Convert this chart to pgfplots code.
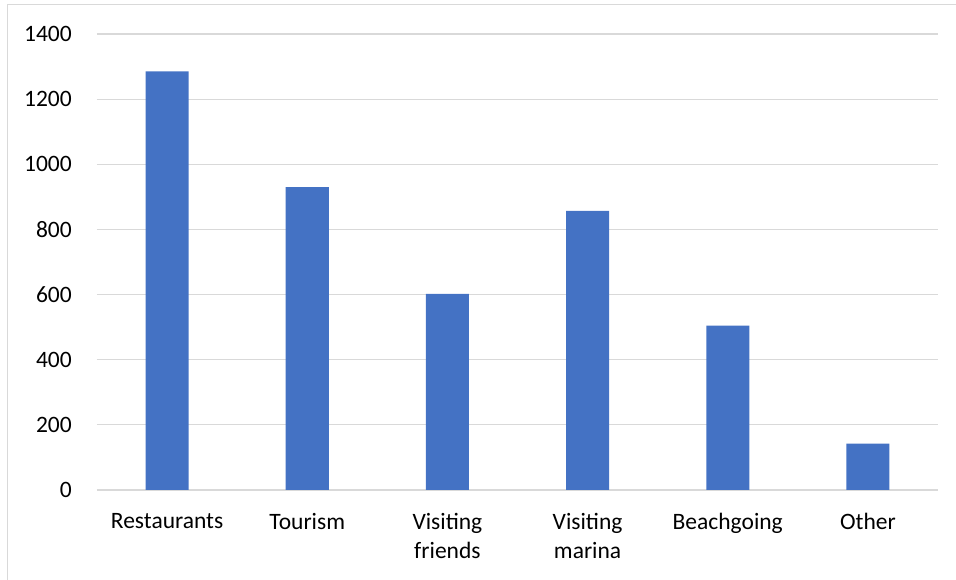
\documentclass[border=0pt]{standalone}
\usepackage{fontspec}
\setmainfont{Carlito}
\usepackage{pgfplots}
\pgfplotsset{compat=1.18}
\definecolor{barblue}{HTML}{4472C4}
\definecolor{gridgrey}{HTML}{D9D9D9}
\begin{document}
\begin{tikzpicture}[x=1pt,y=1pt]
\useasboundingbox (0,0) rectangle (956,580);
\draw[gridgrey, line width=1.6pt] (7.5,0) -- (7.5,575.5) -- (956,575.5);
\begin{axis}[
  at={(97pt,90pt)}, anchor=south west,
  scale only axis, width=841pt, height=456pt,
  xmin=-0.5, xmax=5.5, ymin=0, ymax=1400,
  ytick={0,200,...,1400},
  xtick={0,1,2,3,4,5},
  xticklabels={Restaurants,Tourism,{Visiting\\friends},{Visiting\\marina},Beachgoing,Other},
  axis line style={draw=none},
  major tick length=0pt,
  tick style={draw=none},
  ymajorgrids, grid style={gridgrey, line width=1.2pt},
  /pgf/number format/assume math mode=true,
  /pgf/number format/1000 sep={},
  yticklabel style={font=\fontsize{23.5}{29}\selectfont, text=black, inner sep=0pt, anchor=east, xshift=-25pt},
  xticklabel style={font=\fontsize{23.5}{29}\selectfont, text=black, inner sep=0pt, anchor=north, align=center, yshift=-23pt},
  clip=false,
]
\addplot[ybar, bar width=43pt, fill=barblue, draw=none] coordinates {
  (0,1285) (1,930) (2,602) (3,857) (4,505) (5,142)
};
\end{axis}
\end{tikzpicture}
\end{document}
